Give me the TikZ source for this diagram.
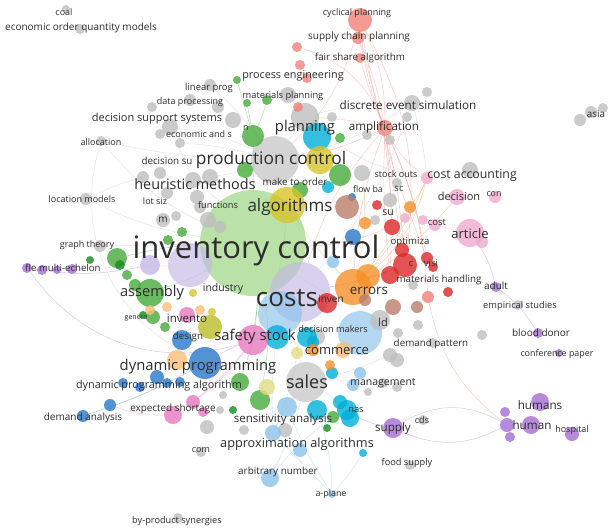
\documentclass[tikz,border=0pt]{standalone}
\usepackage{fontspec}
\setmainfont{Open Sans}
\usetikzlibrary{backgrounds}
\definecolor{ctext}{RGB}{45, 45, 45}
\definecolor{cgray}{RGB}{190, 190, 190}
\definecolor{cgreen}{RGB}{70, 170, 60}
\definecolor{cdgreen}{RGB}{20, 140, 30}
\definecolor{clgreen}{RGB}{140, 205, 110}
\definecolor{cyellow}{RGB}{215, 195, 40}
\definecolor{cpyellow}{RGB}{225, 220, 130}
\definecolor{colive}{RGB}{185, 190, 40}
\definecolor{corange}{RGB}{245, 145, 40}
\definecolor{clorange}{RGB}{250, 190, 120}
\definecolor{cred}{RGB}{220, 40, 40}
\definecolor{csalmon}{RGB}{240, 130, 120}
\definecolor{cpink}{RGB}{230, 120, 190}
\definecolor{clpink}{RGB}{240, 170, 205}
\definecolor{cpurple}{RGB}{165, 110, 210}
\definecolor{clav}{RGB}{195, 185, 230}
\definecolor{cblue}{RGB}{40, 120, 200}
\definecolor{ccyan}{RGB}{0, 175, 215}
\definecolor{clblue}{RGB}{140, 195, 235}
\definecolor{cbrown}{RGB}{185, 125, 105}

\tikzset{
        bub/.style={circle, fill=#1, fill opacity=0.8, draw=none, inner sep=0pt, outer sep=0pt},
        lnk/.style={draw=#1, line width=0.5pt, draw opacity=0.4},
        lbl/.style={font=\fontsize{#1}{#1}\selectfont, text=ctext, inner sep=0pt},
        lbl/.default=9,
}

\begin{document}
\begin{tikzpicture}[x=1pt, y=-1pt]
        \useasboundingbox (0, 0) rectangle (609, 528); % same size as the map
        % Big bubbles {{{
        \node[bub=clgreen, fill opacity=0.6, minimum size=106pt] (inv) at (253, 243) {};
        \foreach \n/\x/\y/\r/\c in {lav3/190/265/22/clav, costs/300/292/30/clav, lbc/280/313/22/clblue,
                lbld/360/333/22/clblue, prodg/275/160/24/cgray, sales/306/382/20/cgray}
                \node[bub=\c, fill opacity=0.65, minimum size={2pt*\r}] (\n) at (\x, \y) {};
        % }}}
        % Clusters {{{
        \foreach \n/\x/\y/\r in {coal/66/9/4, eoq/80/29/5, alloc/101/141/5, locm/86/199/6, grt/100/246/6,
                gm1/163/220/7, gm2/176/216/5, dss1/170/127/8, dss2/160/134/5, dss3/180/143/5, dp1/210/85/6,
                dp2/152/107/5, dp3/190/100/6, dp4/218/107/6, dp5/233/120/8, plang/305/117/14, mpg/288/95/8,
                des1/412/103/8, des2/427/92/5, des3/407/117/5, amp2/390/140/5, amp3/367/135/5, amp4/332/117/5,
                asia1/580/120/6, asia2/591/112/6, asia3/603/108/5, heu1/143/177/6, heu2/160/173/6,
                heu3/167/193/6, heu4/197/197/7, heu5/193/180/8, heu6/210/177/8, heu7/208/220/8, heu8/200/207/6,
                heu9/220/227/6, so1/362/173/8, ca1/470/170/8, fb1/390/200/7, fb2/397/183/5, fb3/375/220/5,
                ld1/380/320/10, mh1/413/285/5, dp6/418/325/5, dp7/398/333/5, bdg/482/335/5, emp/518/305/5,
                dpt1/390/355/7, dpt2/397/360/7, dpt3/433/343/5, mg1/383/383/5, mg2/397/387/5, mg3/368/392/4,
                cds/423/420/5, food/410/465/5, com/201/452/5, bypro/178/518/5, exg1/220/410/4, exg2/207/427/7,
                exg3/223/395/4, sag1/285/430/7, sag2/244/430/5, dmk/317/337/8}
                \node[bub=cgray, minimum size={2pt*\r}] (\n) at (\x, \y) {};
        \foreach \n/\x/\y/\r/\c in {gn/253/136/11/cgreen, gpe/237/80/4/cgreen, gmp1/247/103/4/cgreen,
                gmp2/267/100/5/cgreen, gpl2/340/138/5/cgreen, gplan/340/175/11/cgreen, gmo/300/190/8/cgreen,
                gpc/245/170/8/cgreen, ggt/117/258/10/cgreen, ggt2/90/260/4/cdgreen, ggt3/120/265/5/cdgreen,
                ggt4/127/275/5/cgreen, gasm/150/293/14/cgreen, gasm2/135/285/6/cgreen, gen1/153/317/7/cgreen,
                gen2/165/327/5/cgreen, gen3/143/315/4/cdgreen, gm3/182/232/5/cgreen, gm4/168/240/5/cgreen,
                gdp/240/382/9/cgreen, gsa/260/400/10/cgreen, gsa2/233/410/4/cdgreen, gnas/333/417/6/cgreen,
                gnas2/327/428/4/cdgreen, oli/210/327/12/colive}
                \node[bub=\c, minimum size={2pt*\r}] (\n) at (\x, \y) {};
        \foreach \n/\x/\y/\r/\c in {lav2/150/265/10/clav, lbs1/287/407/10/clblue, apx/273/433/8/clblue,
                arb/270/478/9/clblue, aplane/332/494/4/clblue, lbm1/360/373/6/clblue, lbm2/353/385/6/clblue,
                lbinv/333/262/6/clblue, lbs2/300/450/7/clblue, cplan/317/137/14/ccyan, cmo/328/187/6/ccyan,
                css/277/337/12/ccyan, ccom/307/337/10/ccyan, cnas/347/410/10/ccyan, cn2/340/402/7/ccyan,
                cn3/317/410/10/ccyan, cn4/350/418/9/ccyan, cn5/363/453/4/ccyan, cn6/332/373/6/ccyan,
                cn7/313/342/6/ccyan, dynp/205/363/16/cblue, desb/182/340/10/cblue, dpa1/140/387/5/cblue,
                dpa2/157/377/7/cblue, dpa3/167/383/5/cblue, dpa4/180/382/5/cblue, dpa5/123/383/5/cblue,
                dpa6/110/405/6/cblue, dem/83/416/6/cblue, blinv/353/237/8/cblue, bl2/352/197/4/cblue}
                \node[bub=\c, minimum size={2pt*\r}] (\n) at (\x, \y) {};
        \foreach \n/\x/\y/\r/\c in {err/353/287/18/corange, err2/368/276/12/corange, or1/410/207/6/corange,
                or2/365/223/6/corange, or3/150/310/5/clorange, or4/167/307/5/clorange, or5/200/310/5/clorange,
                or6/177/360/10/clorange, or7/330/365/5/corange, or8/313/350/6/corange, yalg/287/205/18/cyellow,
                yprod/320/160/14/cyellow, ysm/193/293/4/cyellow, ysm2/212/312/4/cyellow, ysa/267/387/8/cpyellow,
                yst/297/353/6/cpyellow, r1/405/265/12/cred, r2/402/250/7/cred, r3/427/258/6/cred,
                r4/433/267/5/cred, r5/390/275/9/cred, r6/428/297/6/csalmon, r7/448/292/5/cred,
                r8/377/205/5/cred, r9/392/227/8/cred, r10/327/303/10/cred, cyc/360/20/12/csalmon,
                scp/358/38/6/csalmon, fsa/360/58/5/csalmon, amp/385/128/8/csalmon, pe1/297/47/5/csalmon,
                pe2/300/65/5/csalmon, pe3/298/107/5/csalmon, pe4/307/78/5/csalmon}
                \node[bub=\c, minimum size={2pt*\r}] (\n) at (\x, \y) {};
        \foreach \n/\x/\y/\r/\c in {ss/253/340/15/cpink, ipk/187/315/8/cpink, exs1/173/415/9/cpink,
                exs2/193/402/7/cpink, exs3/203/412/5/cpink, dec/457/197/8/clpink, con/495/197/6/clpink,
                cost/435/225/6/clpink, cost2/423/220/5/clpink, ca/427/178/6/clpink, pk/405/218/5/clpink,
                art/470/233/14/clpink, art2/482/242/6/clpink, sup/393/428/10/cpurple, hum/540/402/9/cpurple,
                hm/531/425/9/cpurple, hm2/507/425/7/cpurple, hm3/505/412/5/cpurple, hm4/510/437/5/cpurple,
                hosp/572/434/7/cpurple, bd/538/333/5/cpurple, cp/559/353/4/cpurple, adult/496/287/5/cpurple,
                fle1/27/268/5/cpurple, fle2/42/270/5/cpurple, fle3/57/270/4/cpurple, fle4/72/269/5/cpurple,
                br1/347/207/12/cbrown, br2/417/307/6/cbrown, br3/393/307/8/cbrown, br4/365/300/6/cbrown,
                br5/343/350/8/clorange}
                \node[bub=\c, minimum size={2pt*\r}] (\n) at (\x, \y) {};
        % }}}
        % Links {{{
        \begin{scope}[on background layer]
                \fill[white] (0, 0) rectangle (609, 528);
                \foreach \a/\b/\c/\t in {cyc/amp/csalmon/12, cyc/amp/csalmon/-8, scp/amp/csalmon/6,
                        fsa/amp/csalmon/-4, cyc/r1/csalmon/18, cyc/r3/csalmon/-6, scp/r5/csalmon/10,
                        amp/r1/csalmon/4, amp/r5/csalmon/-4, amp/r9/csalmon/2, amp/r2/csalmon/0,
                        amp/err/csalmon/-8, amp/costs/csalmon/-12, amp/ca/csalmon/-12, amp/r6/csalmon/10,
                        amp/r3/csalmon/6, pe1/amp/csalmon/25, r6/hm2/csalmon/-20, amp/plang/csalmon/-5,
                        prodg/amp/csalmon/-8, cyc/prodg/csalmon/15, inv/r9/csalmon/-10,
                        sup/hm2/cpurple/-25, sup/hm2/cpurple/30, cnas/sup/cpurple/-10, art/adult/cpurple/10,
                        adult/bd/cpurple/10, fle1/ss/cpurple/-35, fle1/lav2/cpurple/-10, lav3/fle4/clav/0,
                        apx/aplane/clblue/0, lbs1/aplane/clblue/-5, arb/cnas/clblue/10, cn5/aplane/clblue/5,
                        arb/sales/clblue/-5, apx/sales/clblue/5, cn3/aplane/clblue/8, sales/cnas/clblue/5,
                        sales/cn3/clblue/0, sales/lbs1/clblue/0, lbc/apx/clblue/-5, costs/apx/clblue/10,
                        alloc/inv/cgray/-12, locm/inv/cgray/-8, dss1/prodg/cgray/8, dp1/prodg/cgray/5,
                        grt/inv/cgray/0, des1/costs/cgray/10, des1/plang/cgray/-8, alloc/dynp/cgray/-40,
                        prodg/plang/cgray/0, prodg/heu6/cgray/5, prodg/dss3/cgray/-5, prodg/des1/cgray/-10,
                        prodg/inv/cgray/0, inv/sales/cgray/5, heu5/inv/cgray/5, inv/ld1/cgray/-5,
                        sales/mg1/cgray/5, sales/dpt1/cgray/-5, locm/heu1/cgray/5, alloc/prodg/cgray/-5,
                        dss1/heu5/cgray/0, plang/ca/cgray/-15, des1/ca/cgray/5,
                        gpe/gn/cgreen/0, gmp1/gn/cgreen/0, gmp2/gn/cgreen/5, gn/inv/cgreen/0, ggt/inv/cgreen/5,
                        gasm/inv/cgreen/-5, inv/ss/cgreen/5, inv/gdp/cgreen/10, inv/gsa/cgreen/10,
                        gasm/gen1/cgreen/0, yalg/err/cyellow/-5, yalg/ss/cyellow/10, yprod/gplan/cyellow/0,
                        err/ca/corange/-10, or1/ca/corange/-5, err/dec/corange/-8, err/so1/corange/-10,
                        err2/ca/corange/-15, err/or1/corange/-5, costs/r1/cred/-5,
                        dpa6/exs1/cpink/-10, exs1/ss/cpink/-10, dynp/ss/cpink/5, ss/exs2/cpink/5,
                        dem/dynp/cblue/-5}
                        \draw[lnk=\c] (\a) to[bend left=\t] (\b);
        \end{scope}
        % }}}
        % Labels {{{
        \node[lbl=9] (lcoal) at (64, 12) {coal};
        \node[lbl=10] (leoq) at (81, 28) {economic order quantity models};
        \node[lbl=9] (lcyc) at (357, 13) {cyclical planning};
        \node[lbl=10] (lscp) at (359, 37) {supply chain planning};
        \node[lbl=9.8] (lfsa) at (360, 58) {fair share algorithm};
        \node[lbl=10.8] (lpe) at (293, 76) {process engineering};
        \node[lbl=9.4] (llp) at (209, 88) {linear prog};
        \node[lbl=9.3] (lmp) at (283, 96) {materials planning};
        \node[lbl=9] (ldp) at (190, 102) {data processing};
        \node[lbl=11.7] (ldes) at (408, 105) {discrete event simulation};
        \node[lbl=9.8] (lasia) at (596, 114) {asia};
        \node[lbl=11] (ldss) at (157, 119) {decision support systems};
        \node[lbl=9] (ln) at (246, 128) {n};
        \node[lbl=14.8] (lplan) at (305, 128) {planning};
        \node[lbl=11.6] (lamp) at (384, 127) {amplification};
        \node[lbl=9] (leas) at (199, 134) {economic and s};
        \node[lbl=9] (lalloc) at (101, 142) {allocation};
        \node[lbl=9.8] (ldsu) at (167, 161) {decision su};
        \node[lbl=17.3] (lprod) at (271, 160) {production control};
        \node[lbl=9] (lso) at (396, 174) {stock outs};
        \node[lbl=12.3] (lca) at (472, 175) {cost accounting};
        \node[lbl=14.4] (lheu) at (195, 184) {heuristic methods};
        \node[lbl=9.8] (lmto) at (295, 182) {make to order};
        \node[lbl=9] (llocm) at (82, 199) {location models};
        \node[lbl=9] (llot) at (155, 201) {lot siz};
        \node[lbl=9.2] (lfun) at (218, 205) {functions};
        \node[lbl=17] (lalg) at (290, 207) {algorithms};
        \node[lbl=8.8] (lfb) at (368, 189) {flow ba};
        \node[lbl=9.5] (lsc) at (399, 189) {sc};
        \node[lbl=11] (ldec) at (459, 196) {decision};
        \node[lbl=8.8] (lcon) at (494, 194) {con};
        \node[lbl=10.5] (lsu) at (388, 213) {su};
        \node[lbl=9.5] (lcost) at (437, 222) {cost};
        \node[lbl=10] (lm) at (163, 220) {m};
        \node[lbl=13] (lart) at (470, 234) {article};
        \node[lbl=9.6] (lopt) at (410, 242) {optimiza};
        \node[lbl=31] (linv) at (256, 250) {inventory control};
        \node[lbl=9] (lgrt) at (87, 245) {graph theory};
        \node[lbl=9.6] (lfle) at (63, 268) {fle multi-echelon};
        \node[lbl=9] (lc) at (411, 264) {c};
        \node[lbl=9.5] (lvisi) at (431, 263) {visi};
        \node[lbl=9.8] (lmh) at (439, 280) {materials handling};
        \node[lbl=10] (ladult) at (496, 286) {adult};
        \node[lbl=14.6] (lasm) at (152, 293) {assembly};
        \node[lbl=10.5] (lind) at (223, 289) {industry};
        \node[lbl=26] (lcosts) at (287, 298) {costs};
        \node[lbl=13.4] (lerr) at (369, 291) {errors};
        \node[lbl=10] (linven) at (331, 299) {inven};
        \node[lbl=9.3] (lemp) at (520, 306) {empirical studies};
        \node[lbl=7] (lgen) at (136, 318) {genera};
        \node[lbl=11.5] (linvento) at (187, 318) {invento};
        \node[lbl=11] (lld) at (383, 322) {ld};
        \node[lbl=9.2] (ldm) at (333, 329) {decision makers};
        \node[lbl=10] (lbd) at (541, 333) {blood donor};
        \node[lbl=9.8] (ldesign) at (188, 337) {design};
        \node[lbl=14.8] (lss) at (255, 337) {safety stock};
        \node[lbl=9.8] (ldpt) at (431, 344) {demand pattern};
        \node[lbl=13] (lcom) at (337, 351) {commerce};
        \node[lbl=8.9] (lcp) at (557, 354) {conference paper};
        \node[lbl=14.8] (ldynp) at (198, 367) {dynamic programming};
        \node[lbl=18] (lsales) at (307, 382) {sales};
        \node[lbl=10.5] (lmg) at (383, 383) {management};
        \node[lbl=10.8] (ldpa) at (159, 386) {dynamic programming algorithm};
        \node[lbl=11.7] (lhum) at (540, 405) {humans};
        \node[lbl=9.9] (lexs) at (173, 409) {expected shortage};
        \node[lbl=9.3] (lnas) at (356, 410) {nas};
        \node[lbl=10] (ldem) at (83, 418) {demand analysis};
        \node[lbl=11.5] (lsens) at (283, 420) {sensitivity analysis};
        \node[lbl=9] (lcds) at (422, 420) {cds};
        \node[lbl=11.6] (lsup) at (393, 428) {supply};
        \node[lbl=11.7] (lhm) at (532, 425) {human};
        \node[lbl=9] (lhosp) at (572, 430) {hospital};
        \node[lbl=12.7] (lapx) at (297, 444) {approximation algorithms};
        \node[lbl=9] (lcomm) at (201, 450) {com};
        \node[lbl=9.2] (lfood) at (407, 463) {food supply};
        \node[lbl=9.9] (larb) at (278, 472) {arbitrary number};
        \node[lbl=8.9] (lap) at (331, 494) {a-plane};
        \node[lbl=9.2] (lbyp) at (177, 521) {by-product synergies};
        % }}}
\end{tikzpicture}
\end{document}
